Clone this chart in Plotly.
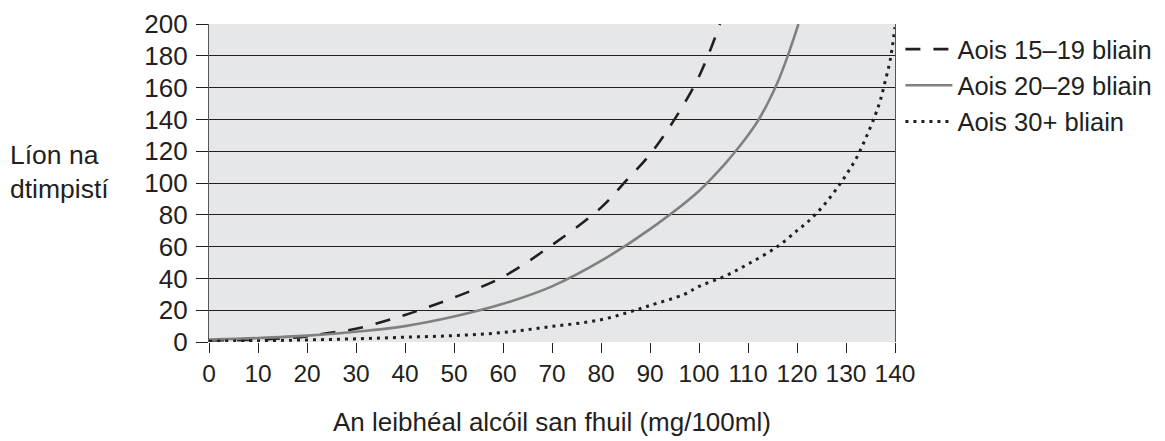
import plotly.graph_objects as go

# Data
x_15_19 = [0, 10, 20, 24, 30, 40, 50, 60, 70, 80, 85, 90, 95, 100, 104.3]
y_15_19 = [1, 1.5, 3.5, 5.5, 8.3, 17, 28, 41, 61, 84.5, 101, 118, 140, 167, 200]

x_20_29 = [0, 10, 20, 30, 40, 50, 60, 70, 80, 90, 100, 105, 108, 110, 112, 114, 116, 118, 120.3]
y_20_29 = [1.5, 2.5, 4, 6.5, 10, 16, 24, 35, 51, 71, 95, 111, 122, 130, 139, 150, 163, 179, 200]

x_30 = [0, 10, 20, 30, 40, 50, 60, 70, 80, 87, 90, 97, 100, 105, 110, 116, 120, 122, 124, 126, 128, 130, 132, 134, 136, 137, 138, 139, 140]
y_30 = [0.5, 0.8, 1.3, 2, 3, 4, 6, 9.8, 14, 20, 23, 30, 35, 41, 49, 60, 70, 75, 81, 88, 96, 105, 115, 128, 143, 152, 164, 177, 198]

series_names = ["Aois 15–19 bliain", "Aois 20–29 bliain", "Aois 30+ bliain"]

x_ticks = list(range(0, 141, 10))
y_ticks = list(range(0, 201, 20))

x_title = "An leibhéal alcóil san fhuil (mg/100ml)"
y_title = "Líon na<br>dtimpistí"

INK = "#231f20"
FONT = "Liberation Sans, Arial, sans-serif"

fig = go.Figure()
fig.add_trace(go.Scatter(x=x_15_19, y=y_15_19, mode="lines", name=series_names[0],
                         line=dict(color=INK, width=2.6, dash="15px,13px", shape="spline", smoothing=1)))
fig.add_trace(go.Scatter(x=x_20_29, y=y_20_29, mode="lines", name=series_names[1],
                         line=dict(color="#808080", width=2.6, shape="spline", smoothing=1)))
fig.add_trace(go.Scatter(x=x_30, y=y_30, mode="lines", name=series_names[2],
                         line=dict(color=INK, width=3, dash="3px,5px", shape="spline", smoothing=1)))

fig.update_layout(
    width=1165, height=441,
    margin=dict(l=209, r=270, t=24, b=99, pad=0, autoexpand=False),
    paper_bgcolor="white",
    plot_bgcolor="#e6e7e8",
    font=dict(family=FONT, color=INK, size=26),
    showlegend=True,
    legend=dict(x=1.0079, y=0.9937, xanchor="left", yanchor="top",
                font=dict(size=25.5, color=INK), bgcolor="rgba(0,0,0,0)",
                traceorder="normal", itemwidth=47),
    xaxis=dict(range=[0, 140], tickvals=x_ticks, ticktext=[str(v) for v in x_ticks],
               showgrid=False, zeroline=False, showline=False, automargin=False,
               ticks="outside", ticklen=10, tickwidth=1.3, tickcolor=INK,
               tickfont=dict(size=24.5, color=INK)),
    yaxis=dict(range=[0, 200], tickvals=y_ticks, ticktext=[str(v) for v in y_ticks],
               showgrid=True, gridcolor=INK, gridwidth=1.3, zeroline=False, automargin=False,
               showline=True, linecolor="#555555", linewidth=1.3, mirror=True,
               ticks="outside", ticklen=12, tickwidth=1.3, tickcolor=INK,
               tickfont=dict(size=26, color=INK), ticklabelstandoff=3),
    annotations=[
        dict(text=y_title, xref="paper", yref="paper", x=-0.293, y=0.535,
             xanchor="left", yanchor="middle", align="left", showarrow=False,
             font=dict(size=26.5, color=INK)),
        dict(text=x_title, xref="paper", yref="paper", x=0.5, y=-0.2516,
             xanchor="center", yanchor="middle", showarrow=False,
             font=dict(size=26, color=INK)),
    ],
)

fig.write_html("out.html", config={"displayModeBar": False},
               post_script="document.body.style.margin='0';document.body.style.overflow='hidden';")
